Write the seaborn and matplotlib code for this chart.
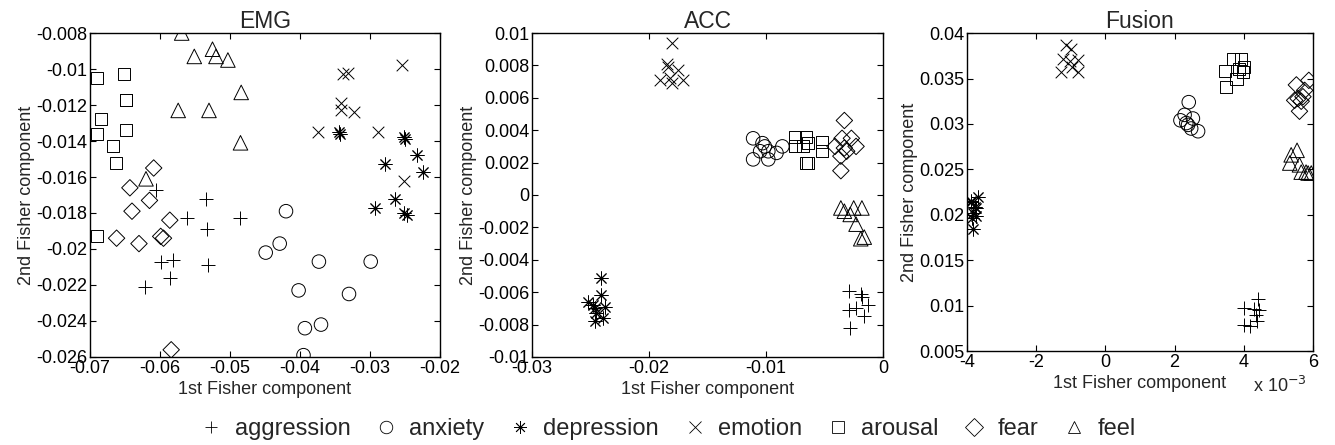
import matplotlib
matplotlib.use("Agg")
import matplotlib.pyplot as plt
from matplotlib.lines import Line2D
from matplotlib.ticker import FuncFormatter, MultipleLocator
import numpy as np
import pandas as pd
import seaborn as sns

classes = ["aggression", "anxiety", "depression", "emotion", "arousal", "fear", "feel"]

# --- EMG -----------------------------------------------------------
emg_x = {
    "aggression": [-0.0605, -0.0534, -0.0562, -0.0485, -0.0533, -0.0598, -0.0582, -0.0532, -0.0586, -0.0621],
    "anxiety": [-0.0420, -0.0429, -0.0449, -0.0373, -0.0299, -0.0402, -0.0330, -0.0393, -0.0370, -0.0395],
    "depression": [-0.0344, -0.0343, -0.0251, -0.0250, -0.0233, -0.0278, -0.0224, -0.0264, -0.0293, -0.0252, -0.0247],
    "emotion": [-0.0255, -0.0338, -0.0331, -0.0342, -0.0342, -0.0323, -0.0374, -0.0289, -0.0251],
    "arousal": [-0.0690, -0.0651, -0.0649, -0.0648, -0.0684, -0.0690, -0.0649, -0.0667, -0.0663, -0.0690],
    "fear": [-0.0609, -0.0643, -0.0615, -0.0640, -0.0586, -0.0662, -0.0630, -0.0599, -0.0595, -0.0584],
    "feel": [-0.0569, -0.0551, -0.0525, -0.0520, -0.0503, -0.0484, -0.0574, -0.0530, -0.0485, -0.0620],
}
emg_y = {
    "aggression": [-0.0167, -0.0172, -0.0183, -0.0183, -0.0189, -0.0207, -0.0206, -0.0209, -0.0216, -0.0221],
    "anxiety": [-0.0179, -0.0197, -0.0202, -0.0207, -0.0207, -0.0223, -0.0225, -0.0244, -0.0242, -0.0259],
    "depression": [-0.0135, -0.0136, -0.0138, -0.0139, -0.0148, -0.0153, -0.0157, -0.0172, -0.0177, -0.0180, -0.0181],
    "emotion": [-0.0098, -0.0103, -0.0102, -0.0119, -0.0123, -0.0124, -0.0135, -0.0135, -0.0162],
    "arousal": [-0.0105, -0.0103, -0.0117, -0.0117, -0.0128, -0.0136, -0.0134, -0.0143, -0.0152, -0.0193],
    "fear": [-0.0155, -0.0166, -0.0173, -0.0179, -0.0184, -0.0194, -0.0197, -0.0193, -0.0194, -0.0256],
    "feel": [-0.0080, -0.0093, -0.0089, -0.0093, -0.0095, -0.0113, -0.0123, -0.0123, -0.0141, -0.0161],
}

# --- ACC -----------------------------------------------------------
acc_x = {
    "aggression": [-0.0029, -0.0019, -0.0018, -0.0029, -0.0023, -0.0013, -0.0016, -0.0028],
    "anxiety": [-0.0111, -0.0103, -0.0101, -0.0105, -0.0098, -0.0086, -0.0091, -0.0111, -0.0098],
    "depression": [-0.0241, -0.0241, -0.0252, -0.0248, -0.0246, -0.0238, -0.0245, -0.0239, -0.0246],
    "emotion": [-0.0180, -0.0185, -0.0184, -0.0175, -0.0191, -0.0182, -0.0180, -0.0171],
    "arousal": [-0.0075, -0.0075, -0.0066, -0.0064, -0.0052, -0.0052, -0.0066, -0.0064, -0.0068],
    "fear": [-0.0033, -0.0035, -0.0027, -0.0023, -0.0041, -0.0033, -0.0036, -0.0031, -0.0036],
    "feel": [-0.0036, -0.0025, -0.0018, -0.0028, -0.0023, -0.0016, -0.0019, -0.0033],
}
acc_y = {
    "aggression": [-0.0059, -0.0061, -0.0063, -0.0071, -0.0070, -0.0068, -0.0075, -0.0082],
    "anxiety": [0.0035, 0.0032, 0.0030, 0.0027, 0.0027, 0.0030, 0.0026, 0.0022, 0.0022],
    "depression": [-0.0051, -0.0062, -0.0066, -0.0068, -0.0070, -0.0069, -0.0073, -0.0076, -0.0078],
    "emotion": [0.0094, 0.0081, 0.0079, 0.0077, 0.0071, 0.0072, 0.0069, 0.0071],
    "arousal": [0.0030, 0.0036, 0.0036, 0.0032, 0.0033, 0.0027, 0.0020, 0.0020, 0.0030],
    "fear": [0.0046, 0.0035, 0.0035, 0.0030, 0.0030, 0.0029, 0.0024, 0.0027, 0.0015],
    "feel": [-0.0008, -0.0008, -0.0008, -0.0012, -0.0018, -0.0026, -0.0027, -0.0010],
}

# --- Fusion (x in units of 1e-3) -------------------------------------
fusion_x = {
    "aggression": [4.41, 4.00, 4.31, 4.44, 4.36, 4.39, 4.00, 4.17],
    "anxiety": [2.41, 2.29, 2.53, 2.17, 2.39, 2.48, 2.68, 2.34],
    "depression": [-3.68, -3.87, -3.78, -3.87, -3.75, -3.83, -3.85, -3.73, -3.83],
    "emotion": [-1.13, -0.98, -1.23, -1.03, -0.79, -0.96, -1.27, -0.79],
    "arousal": [3.69, 3.93, 3.45, 3.79, 3.50, 4.00, 3.98, 3.86],
    "fear": [5.88, 5.52, 5.76, 5.71, 5.47, 5.66, 5.61, 5.57],
    "feel": [5.54, 5.37, 5.33, 5.61, 5.66, 5.95, 5.86, 5.80],
}
fusion_y = {
    "aggression": [0.0107, 0.0097, 0.0096, 0.0095, 0.0090, 0.0083, 0.0079, 0.0078],
    "anxiety": [0.0324, 0.0310, 0.0306, 0.0304, 0.0299, 0.0295, 0.0292, 0.0301],
    "depression": [0.0220, 0.0214, 0.0209, 0.0215, 0.0208, 0.0202, 0.0196, 0.0199, 0.0184],
    "emotion": [0.0387, 0.0382, 0.0372, 0.0369, 0.0370, 0.0363, 0.0357, 0.0357],
    "arousal": [0.0371, 0.0371, 0.0358, 0.0350, 0.0341, 0.0363, 0.0357, 0.0360],
    "fear": [0.0348, 0.0343, 0.0337, 0.0330, 0.0326, 0.0325, 0.0314, 0.0328],
    "feel": [0.0271, 0.0266, 0.0257, 0.0255, 0.0247, 0.0246, 0.0246, 0.0247],
}

markers = {
    "aggression": "+",
    "anxiety": "o",
    "depression": (8, 2, 0),
    "emotion": "x",
    "arousal": "s",
    "fear": "D",
    "feel": "^",
}
filled = {"anxiety", "arousal", "fear", "feel"}
sizes = {"aggression": 110, "anxiety": 95, "depression": 90, "emotion": 70,
         "arousal": 75, "fear": 70, "feel": 110}


def to_frame(xs, ys):
    rows = []
    for c in classes:
        for x, y in zip(xs[c], ys[c]):
            rows.append({"x": x, "y": y, "cls": c})
    return pd.DataFrame(rows)


sns.set_style("ticks", {
    "xtick.direction": "in", "ytick.direction": "in",
    "xtick.top": True, "ytick.right": True,
    "axes.edgecolor": "black",
})
plt.rcParams["font.family"] = ["Liberation Sans", "DejaVu Sans"]
plt.rcParams["axes.unicode_minus"] = False

fig = plt.figure(figsize=(13.35, 4.45), dpi=100)
panels = [
    ("EMG", to_frame(emg_x, emg_y), [0.0674, 0.1978, 0.2622, 0.728],
     (-0.07, -0.02), 0.01, (-0.026, -0.008), 0.002),
    ("ACC", to_frame(acc_x, acc_y), [0.3985, 0.1978, 0.2629, 0.728],
     (-0.03, 0.0), 0.01, (-0.01, 0.01), 0.002),
    ("Fusion", to_frame(fusion_x, fusion_y), [0.7243, 0.211, 0.2592, 0.7146],
     (-4, 6), 2, (0.005, 0.04), 0.005),
]

fmt = FuncFormatter(lambda v, p: "%g" % round(v, 6))

for title, df, rect, xlim, xstep, ylim, ystep in panels:
    ax = fig.add_axes(rect)
    for c in classes:
        sub = df[df["cls"] == c]
        if c in filled:
            sns.scatterplot(data=sub, x="x", y="y", marker=markers[c], s=sizes[c],
                            facecolor="none", edgecolor="black", linewidth=0.7, ax=ax)
        else:
            sns.scatterplot(data=sub, x="x", y="y", marker=markers[c], s=sizes[c],
                            color="black", linewidth=0.7, ax=ax)
    ax.set_xlim(*xlim)
    ax.set_ylim(*ylim)
    ax.xaxis.set_major_locator(MultipleLocator(xstep))
    ax.yaxis.set_major_locator(MultipleLocator(ystep))
    ax.xaxis.set_major_formatter(fmt)
    ax.yaxis.set_major_formatter(fmt)
    ax.tick_params(labelsize=13, length=4, width=0.8, pad=2, colors="black")
    for sp in ax.spines.values():
        sp.set_linewidth(1.0)
        sp.set_visible(True)
    ax.set_title(title, fontsize=16.5, pad=3)
    ax.set_xlabel("1st Fisher component", fontsize=13, labelpad=3)
    ax.set_ylabel("2nd Fisher component", fontsize=13, labelpad=1)
    if title == "Fusion":
        ax.text(0.983, -0.11, "x 10$^{-3}$", transform=ax.transAxes,
                ha="right", va="center", fontsize=13)

handles = []
for c in classes:
    if c in filled:
        h = Line2D([], [], marker=markers[c], linestyle="none", markersize=9,
                   markerfacecolor="none", markeredgecolor="black", markeredgewidth=0.6)
    else:
        h = Line2D([], [], marker=markers[c], linestyle="none", markersize=9,
                   color="black", markeredgewidth=0.6)
    handles.append(h)

fig.legend(handles, classes, loc="center", bbox_to_anchor=(0.5, 0.035), ncol=7,
           frameon=False, fontsize=17, handletextpad=0.5, columnspacing=1.0,
           handlelength=1.0)

fig.savefig("out.png", dpi=100)
